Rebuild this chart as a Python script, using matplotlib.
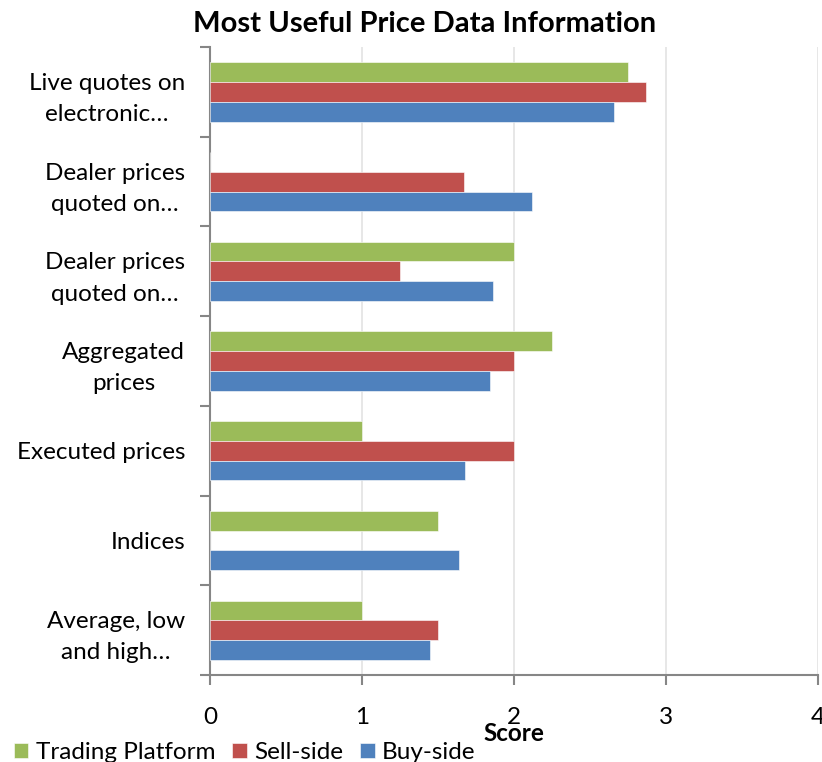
import matplotlib
matplotlib.use("Agg")
import matplotlib.pyplot as plt
import numpy as np

plt.rcParams["font.family"] = ["Lato", "DejaVu Sans"]

categories = [
    "Live quotes on\nelectronic…",
    "Dealer prices\nquoted on…",
    "Dealer prices\nquoted on…",
    "Aggregated\nprices",
    "Executed prices",
    "Indices",
    "Average, low\nand high…",
]
trading_platform = [2.75, 0, 2.0, 2.25, 1.0, 1.5, 1.0]
sell_side = [2.87, 1.67, 1.25, 2.0, 2.0, 0, 1.5]
buy_side = [2.66, 2.12, 1.86, 1.84, 1.68, 1.64, 1.45]

series = [
    ("Trading Platform", trading_platform, "#9bbb59"),
    ("Sell-side", sell_side, "#c0504d"),
    ("Buy-side", buy_side, "#4f81bd"),
]

fig = plt.figure(figsize=(8.22, 7.62), dpi=100)
ax = fig.add_axes([0.2555, 0.1142, 0.7395, 0.8240])

y = np.arange(len(categories))
h = 0.22
for i, (name, vals, color) in enumerate(series):
    ax.barh(y + (i - 1) * h, vals, height=h, color=color, label=name,
            edgecolor="white", linewidth=0.4, zorder=3)

ax.set_ylim(len(categories) - 0.5, -0.5)
ax.set_xlim(0, 4)
ax.set_xticks([0, 1, 2, 3, 4])
ax.set_yticks(np.arange(len(categories) + 1) - 0.5, minor=False)
ax.set_yticklabels([])
ax.set_yticks(y, minor=True)
ax.set_yticklabels(categories, minor=True, fontsize=17.5, ha="right",
                   multialignment="center", linespacing=1.6)
ax.tick_params(axis="y", which="minor", length=0, pad=18)
ax.tick_params(axis="y", which="major", length=7, color="#868686", width=1.5)
ax.tick_params(axis="x", length=7, color="#868686", width=1.5, pad=16, labelsize=17.5)

ax.grid(axis="x", color="#e3e3e3", linewidth=1.2, zorder=0)
for s in ["top", "right"]:
    ax.spines[s].set_visible(False)
for s in ["left", "bottom"]:
    ax.spines[s].set_color("#868686")
    ax.spines[s].set_linewidth(1.5)

ax.set_xlabel("Score", fontsize=17.5, fontweight="bold", labelpad=-4)
fig.suptitle("Most Useful Price Data Information", fontsize=21, fontweight="bold",
             x=0.517, y=0.986)

fig.legend(loc="lower left", bbox_to_anchor=(0.005, -0.014), ncol=3, frameon=False,
           fontsize=17.5, handlelength=0.6, handleheight=0.6, handletextpad=0.3,
           columnspacing=0.7, borderaxespad=0.0)

fig.savefig("out.png", dpi=100)
